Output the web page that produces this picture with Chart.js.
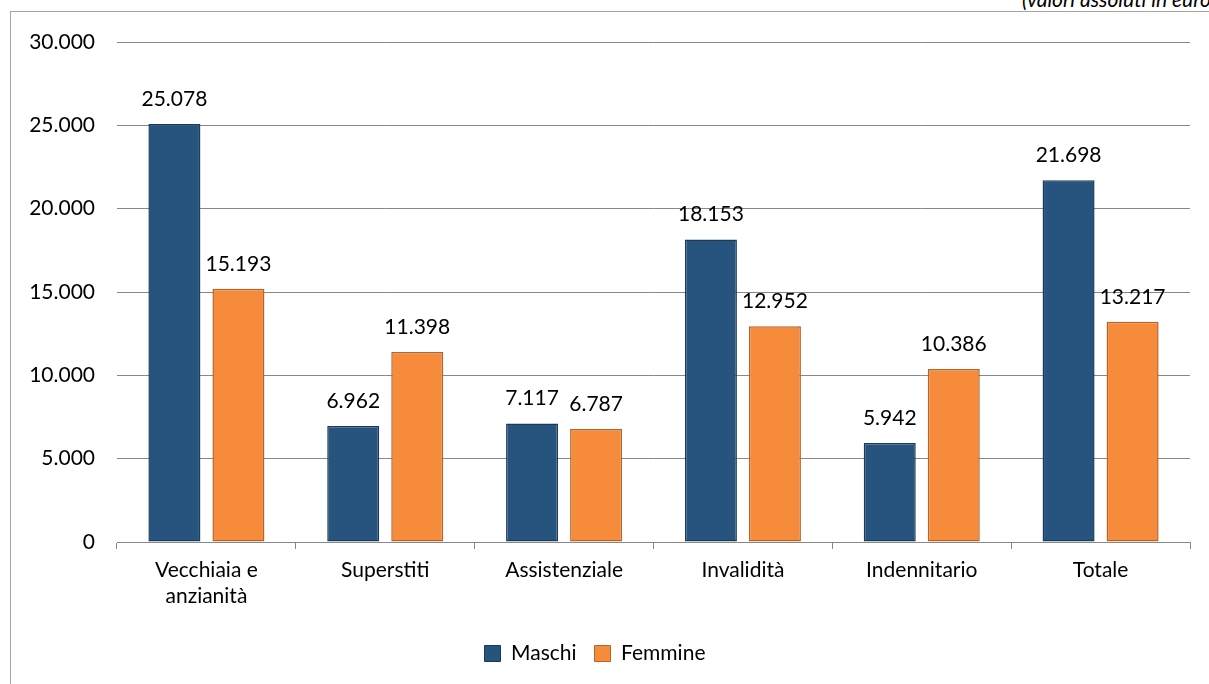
<!DOCTYPE html>
<html>
<head>
<meta charset="utf-8">
<script src="https://cdn.jsdelivr.net/npm/chart.js@4.4.1/dist/chart.umd.min.js"></script>
<style>
  html, body { margin: 0; padding: 0; background: #fff; overflow: hidden; }
  #wrap { position: relative; width: 1209px; height: 684px; overflow: hidden; }
  #frame { position: absolute; left: 10px; top: 11px; width: 1300px; height: 800px; border: 1px solid #a6a6a6; box-sizing: border-box; }
  #note { position: absolute; left: 1022px; top: -12px; line-height: 21px; font-family: Lato, sans-serif; font-style: italic; font-size: 21px; white-space: nowrap; color: #000; }
  canvas { position: absolute; left: 0; top: 0; }
</style>
</head>
<body>
<div id="wrap">
  <div id="frame"></div>
  <div id="note">(valori assoluti in euro)</div>
  <canvas id="c" width="1209" height="684"></canvas>
</div>
<script>
const categories = [["Vecchiaia e", "anzianità"], "Superstiti", "Assistenziale", "Invalidità", "Indennitario", "Totale"];
const maschi = [25078, 6962, 7117, 18153, 5942, 21698];
const femmine = [15193, 11398, 6787, 12952, 10386, 13217];
const yTicks = [0, 5000, 10000, 15000, 20000, 25000, 30000];

const FONT = "Lato, 'Open Sans', sans-serif";
function fmtIt(v) {
  const s = String(Math.round(v));
  return s.replace(/\B(?=(\d{3})+(?!\d))/g, '.');
}

const valueLabels = {
  id: 'valueLabels',
  afterDatasetsDraw(chart) {
    const ctx = chart.ctx;
    ctx.save();
    ctx.font = "21px " + FONT;
    ctx.fillStyle = '#000';
    ctx.textAlign = 'center';
    ctx.textBaseline = 'alphabetic';
    chart.data.datasets.forEach((ds, i) => {
      chart.getDatasetMeta(i).data.forEach((bar, j) => {
        ctx.fillText(fmtIt(ds.data[j]), bar.x, bar.y - 18);
      });
    });
    ctx.restore();
  }
};

function barGradient(ctx, base, edge) {
  const el = ctx.element;
  if (!el || !ctx.chart.chartArea) return base;
  const w = el.width || 0;
  if (!w) return base;
  const g = ctx.chart.ctx.createLinearGradient(el.x - w / 2, 0, el.x + w / 2, 0);
  g.addColorStop(0, edge);
  g.addColorStop(0.06, base);
  g.addColorStop(0.94, base);
  g.addColorStop(1, edge);
  return g;
}

new Chart(document.getElementById('c'), {
  type: 'bar',
  data: {
    labels: categories,
    datasets: [
      { label: 'Maschi', data: maschi, backgroundColor: c => barGradient(c, '#27547f', '#1f4266'), borderColor: '#1b3a58', borderWidth: 1.5, borderSkipped: false },
      { label: 'Femmine', data: femmine, backgroundColor: c => barGradient(c, '#f78b3c', '#d8742e'), borderColor: '#b5642a', borderWidth: 1.5, borderSkipped: false }
    ]
  },
  options: {
    responsive: false,
    animation: false,
    layout: { padding: { left: 0, right: 19, top: 42, bottom: 10 } },
    datasets: { bar: { categoryPercentage: 0.716, barPercentage: 0.8125 } },
    scales: {
      x: {
        grid: { display: true, drawOnChartArea: false, drawTicks: true, tickLength: 7, color: '#888' },
        border: { display: true, color: '#888', width: 1 },
        ticks: { color: '#000', font: { family: FONT, size: 21, lineHeight: 1.25 }, padding: 8, maxRotation: 0, autoSkip: false },
        afterFit(s) { s.height = 83; }
      },
      y: {
        min: 0, max: 30000,
        afterBuildTicks(s) { s.ticks = yTicks.map(v => ({ value: v })); },
        grid: { color: '#888', drawTicks: false, lineWidth: 1 },
        border: { display: false },
        ticks: { color: '#000', padding: 22, font: { family: FONT, size: 21 }, callback: v => fmtIt(v) },
        afterFit(s) { s.width = 117; }
      }
    },
    plugins: {
      legend: {
        position: 'bottom',
        labels: { color: '#000', font: { family: FONT, size: 21 }, boxWidth: 16, boxHeight: 16, padding: 18,
          generateLabels(chart) {
            const items = Chart.defaults.plugins.legend.labels.generateLabels(chart);
            const fills = ['#27547f', '#f78b3c'];
            items.forEach((it, i) => { it.fillStyle = fills[i]; it.lineWidth = 1; });
            return items;
          }
        }
      },
      tooltip: { enabled: false }
    }
  },
  plugins: [valueLabels]
});
</script>
</body>
</html>
